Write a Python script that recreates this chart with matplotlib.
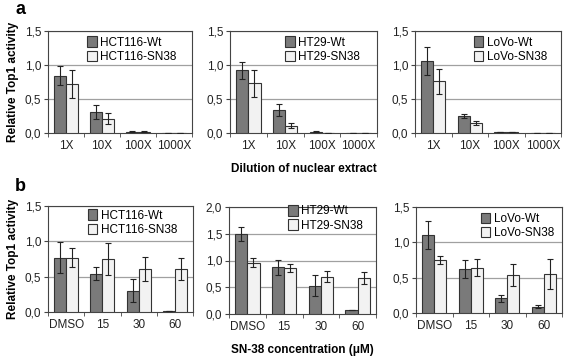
import numpy as np
import matplotlib
matplotlib.use('Agg')
import matplotlib.pyplot as plt

plt.rcParams['font.family'] = ['Liberation Sans', 'DejaVu Sans']

# panel a: dilution of nuclear extract
dil_labels = ['1X', '10X', '100X', '1000X']
a_hct_wt = [0.84, 0.31, 0.02, 0.0]
a_hct_wt_err = [0.14, 0.10, 0.01, 0.0]
a_hct_sn = [0.72, 0.21, 0.02, 0.0]
a_hct_sn_err = [0.21, 0.08, 0.01, 0.0]

a_ht_wt = [0.92, 0.34, 0.02, 0.006]
a_ht_wt_err = [0.12, 0.09, 0.01, 0.0]
a_ht_sn = [0.73, 0.11, 0.0, 0.0]
a_ht_sn_err = [0.20, 0.04, 0.0, 0.0]

a_lovo_wt = [1.06, 0.25, 0.01, 0.0]
a_lovo_wt_err = [0.20, 0.03, 0.0, 0.0]
a_lovo_sn = [0.76, 0.15, 0.01, 0.0]
a_lovo_sn_err = [0.18, 0.03, 0.0, 0.0]

# panel b: SN-38 concentration
conc_labels = ['DMSO', '15', '30', '60']
b_hct_wt = [0.77, 0.54, 0.30, 0.02]
b_hct_wt_err = [0.22, 0.09, 0.16, 0.0]
b_hct_sn = [0.77, 0.75, 0.61, 0.61]
b_hct_sn_err = [0.13, 0.22, 0.17, 0.16]

b_ht_wt = [1.50, 0.87, 0.53, 0.08]
b_ht_wt_err = [0.13, 0.14, 0.19, 0.0]
b_ht_sn = [0.96, 0.86, 0.70, 0.67]
b_ht_sn_err = [0.08, 0.08, 0.11, 0.11]

b_lovo_wt = [1.10, 0.62, 0.21, 0.09]
b_lovo_wt_err = [0.20, 0.13, 0.05, 0.02]
b_lovo_sn = [0.75, 0.64, 0.54, 0.55]
b_lovo_sn_err = [0.06, 0.12, 0.16, 0.21]

W, H = 567, 356
fig = plt.figure(figsize=(W / 100, H / 100), dpi=100)


def make_ax(l, r, t, b):
    return fig.add_axes([l / W, 1 - b / H, (r - l) / W, (b - t) / H])


def draw(ax, cats, wt, wt_err, sn, sn_err, names, ymax, yticks, leg_anchor):
    x = np.arange(len(cats))
    w = 0.33
    ax.bar(x - w / 2, wt, w, color='#7a7a7a', edgecolor='#333333', linewidth=0.8,
           label=names[0], zorder=3)
    ax.bar(x + w / 2, sn, w, color='#f2f2f2', edgecolor='#333333', linewidth=0.8,
           label=names[1], zorder=3)
    ax.errorbar(x - w / 2, wt, yerr=wt_err, fmt='none', ecolor='#222222',
                elinewidth=0.8, capsize=2.5, capthick=0.8, zorder=4)
    ax.errorbar(x + w / 2, sn, yerr=sn_err, fmt='none', ecolor='#222222',
                elinewidth=0.8, capsize=2.5, capthick=0.8, zorder=4)
    ax.set_xlim(-0.5, len(cats) - 0.5)
    ax.set_ylim(0, ymax)
    ax.set_yticks(yticks)
    ax.set_yticklabels([('%.1f' % v).replace('.', ',') for v in yticks], fontsize=8.5,
                       color='#222222')
    for v in yticks[1:]:
        ax.axhline(v, color='#a0a0a0', linewidth=0.9, zorder=1)
    ax.set_xticks(x)
    ax.set_xticklabels(cats, fontsize=8.5, color='#222222')
    ax.tick_params(axis='x', length=0, pad=5)
    ax.set_xticks(np.arange(len(cats) + 1) - 0.5, minor=True)
    ax.tick_params(axis='x', which='minor', length=3, direction='out', color='#444444')
    ax.tick_params(axis='y', length=3, direction='out', color='#444444', pad=2)
    for s in ax.spines.values():
        s.set_color('#444444')
        s.set_linewidth(0.8)
    ax.legend(loc='upper right', bbox_to_anchor=leg_anchor, frameon=False, fontsize=8.5,
              handlelength=0.8, handleheight=1.0, handletextpad=0.3, labelspacing=0.15,
              borderpad=0.2, borderaxespad=0.0)


yt15 = [0.0, 0.5, 1.0, 1.5]
yt20 = [0.0, 0.5, 1.0, 1.5, 2.0]

ax = make_ax(48, 192, 31, 133)
draw(ax, dil_labels, a_hct_wt, a_hct_wt_err, a_hct_sn, a_hct_sn_err,
     ['HCT116-Wt', 'HCT116-SN38'], 1.5, yt15, (0.91, 0.97))
ax.set_ylabel('Relative Top1 activity', fontsize=8.5, fontweight='bold')

ax = make_ax(230, 377, 31, 133)
draw(ax, dil_labels, a_ht_wt, a_ht_wt_err, a_ht_sn, a_ht_sn_err,
     ['HT29-Wt', 'HT29-SN38'], 1.5, yt15, (0.90, 0.97))
ax.set_xlabel('Dilution of nuclear extract', fontsize=8.5, fontweight='bold', labelpad=8)

ax = make_ax(415, 561, 31, 133)
draw(ax, dil_labels, a_lovo_wt, a_lovo_wt_err, a_lovo_sn, a_lovo_sn_err,
     ['LoVo-Wt', 'LoVo-SN38'], 1.5, yt15, (0.92, 0.97))

ax = make_ax(48, 193, 206, 312)
draw(ax, conc_labels, b_hct_wt, b_hct_wt_err, b_hct_sn, b_hct_sn_err,
     ['HCT116-Wt', 'HCT116-SN38'], 1.5, yt15, (0.906, 0.99))
ax.set_ylabel('Relative Top1 activity', fontsize=8.5, fontweight='bold')

ax = make_ax(229, 376, 207, 314)
draw(ax, conc_labels, b_ht_wt, b_ht_wt_err, b_ht_sn, b_ht_sn_err,
     ['HT29-Wt', 'HT29-SN38'], 2.0, yt20, (0.93, 1.04))
ax.set_xlabel('SN-38 concentration (\u03bcM)', fontsize=8.5, fontweight='bold', labelpad=8)

ax = make_ax(416, 562, 207, 313)
draw(ax, conc_labels, b_lovo_wt, b_lovo_wt_err, b_lovo_sn, b_lovo_sn_err,
     ['LoVo-Wt', 'LoVo-SN38'], 1.5, yt15, (0.96, 0.97))

fig.text(15 / W, 1 - 9 / H, 'a', fontsize=13, fontweight='bold', va='center')
fig.text(15 / W, 1 - 186 / H, 'b', fontsize=13, fontweight='bold', va='center')

fig.savefig('out.png', dpi=100, facecolor='white')
